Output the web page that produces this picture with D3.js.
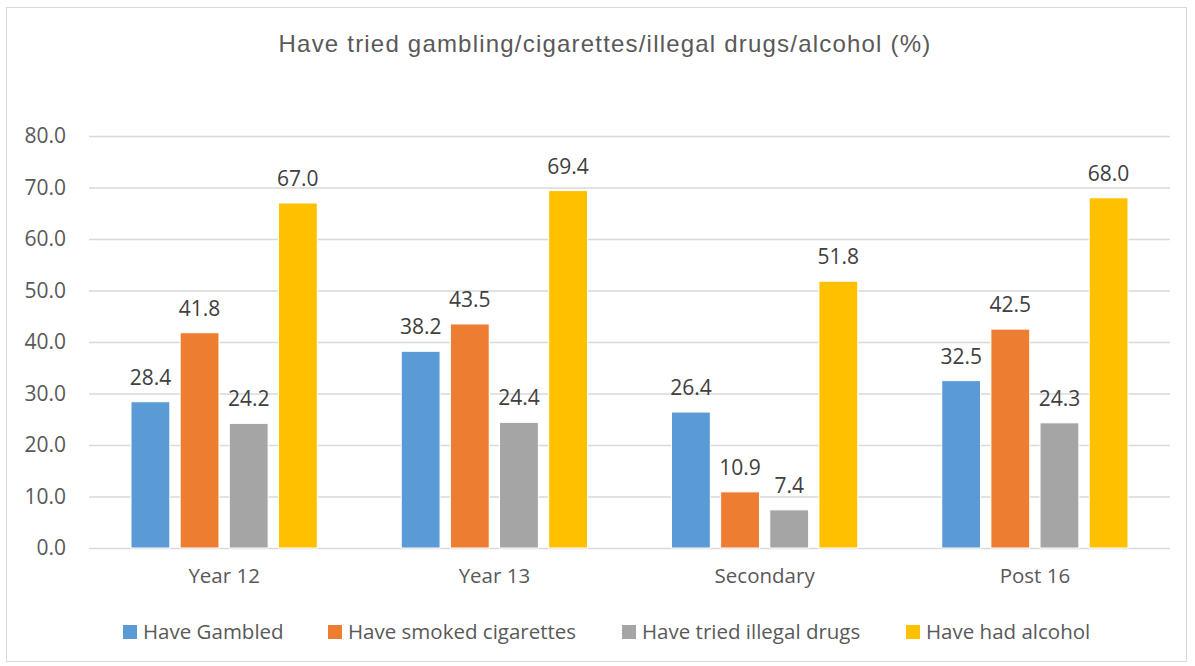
<!DOCTYPE html>
<html>
<head>
<meta charset="utf-8">
<script src="https://cdn.jsdelivr.net/npm/d3@7"></script>
<style>
  html, body { margin: 0; padding: 0; background: #fff; }
  svg { display: block; }
</style>
</head>
<body>
<svg id="chart" width="1195" height="666"></svg>
<script>
// Share of pupils who have tried each behaviour, by group (%)
const categories = ["Year 12", "Year 13", "Secondary", "Post 16"];
const seriesNames = ["Have Gambled", "Have smoked cigarettes", "Have tried illegal drugs", "Have had alcohol"];
const gambled = [28.4, 38.2, 26.4, 32.5];
const cigarettes = [41.8, 43.5, 10.9, 42.5];
const drugs = [24.2, 24.4, 7.4, 24.3];
const alcohol = [67.0, 69.4, 51.8, 68.0];
const yTicks = [0, 10, 20, 30, 40, 50, 60, 70, 80];
const colors = ["#5b9bd5", "#ed7d31", "#a5a5a5", "#ffc000"];
const titleText = "Have tried gambling/cigarettes/illegal drugs/alcohol (%)";

const seriesValues = [gambled, cigarettes, drugs, alcohol];
const FONT = "'Open Sans', sans-serif";
const TITLE_FONT = "'Liberation Sans', Arial, sans-serif";

const svg = d3.select("#chart");

// outer chart border
svg.append("rect")
  .attr("x", 6.5).attr("y", 7.5)
  .attr("width", 1180).attr("height", 654)
  .attr("fill", "#fff").attr("stroke", "#d9d9d9").attr("stroke-width", 1);

const plot = { left: 89, right: 1170, top: 136, bottom: 548 };

const y = d3.scaleLinear().domain([0, 80]).range([plot.bottom, plot.top]);
const x0 = d3.scaleBand().domain(categories).range([plot.left, plot.right]).padding(0);
const x1 = d3.scaleBand().domain(seriesNames)
  .range([42, x0.bandwidth() - 42]).paddingInner(0.21).paddingOuter(0);

// title
svg.append("text")
  .attr("x", 605).attr("y", 52)
  .attr("text-anchor", "middle")
  .attr("font-family", TITLE_FONT).attr("font-size", 24)
  .attr("letter-spacing", "1.2px")
  .attr("fill", "#595959")
  .text(titleText);

// gridlines + y tick labels
const yAxis = d3.axisLeft(y).tickValues(yTicks)
  .tickSize(-(plot.right - plot.left)).tickFormat(d3.format(".1f")).tickPadding(23);
const gy = svg.append("g").attr("transform", `translate(${plot.left},0)`).call(yAxis);
gy.select(".domain").remove();
gy.selectAll(".tick line").attr("stroke", "#d9d9d9").attr("stroke-width", 1.3);
gy.selectAll(".tick text")
  .attr("font-family", FONT).attr("font-size", 21).attr("fill", "#595959");

// x category labels
const xAxis = d3.axisBottom(x0).tickSize(0).tickPadding(20);
const gx = svg.append("g").attr("transform", `translate(0,${plot.bottom})`).call(xAxis);
gx.select(".domain").remove();
gx.selectAll(".tick text")
  .attr("font-family", FONT).attr("font-size", 20.5).attr("fill", "#595959");

// bars
const rows = [];
categories.forEach((c, i) => {
  seriesNames.forEach((s, j) => rows.push({ cat: c, series: s, j, value: seriesValues[j][i] }));
});

const bars = svg.append("g");
bars.selectAll("rect").data(rows).join("rect")
  .attr("x", d => x0(d.cat) + x1(d.series))
  .attr("y", d => y(d.value))
  .attr("width", x1.bandwidth())
  .attr("height", d => y(0) - y(d.value))
  .attr("fill", d => colors[d.j])
  .attr("stroke", "#fff").attr("stroke-width", 1);

// value labels
bars.selectAll("text").data(rows).join("text")
  .attr("x", d => x0(d.cat) + x1(d.series) + x1.bandwidth() / 2)
  .attr("y", d => y(d.value) - 17)
  .attr("text-anchor", "middle")
  .attr("font-family", FONT).attr("font-size", 21).attr("fill", "#404040")
  .text(d => d.value.toFixed(1));

// legend
const legendX = [123, 328, 622, 906];
const legend = svg.append("g").attr("transform", "translate(0,632)");
seriesNames.forEach((s, j) => {
  legend.append("rect")
    .attr("x", legendX[j]).attr("y", -7)
    .attr("width", 14).attr("height", 14)
    .attr("fill", colors[j]);
  legend.append("text")
    .attr("x", legendX[j] + 20).attr("y", 0)
    .attr("dy", "0.35em")
    .attr("font-family", FONT).attr("font-size", 20.5).attr("fill", "#595959")
    .text(s);
});
</script>
</body>
</html>
